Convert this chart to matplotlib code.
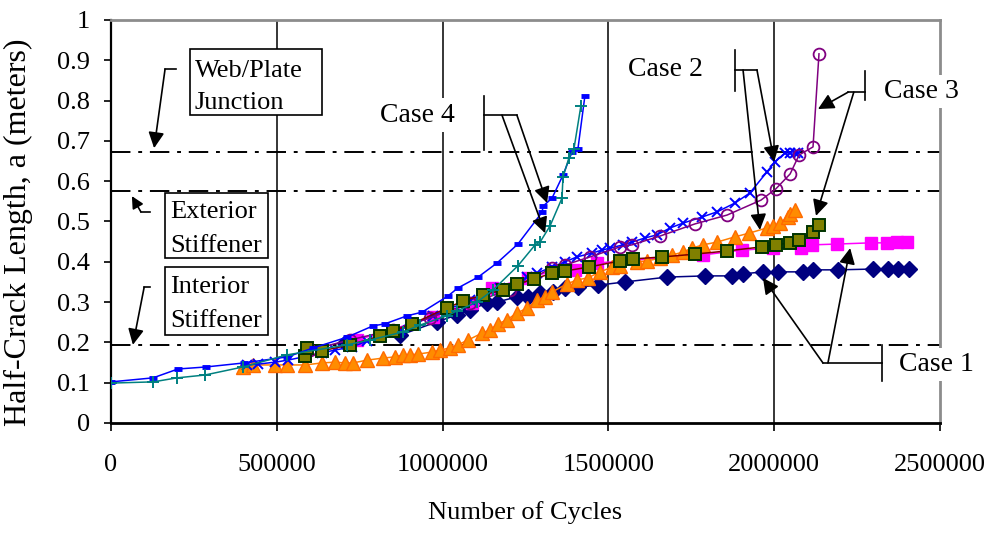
import matplotlib
matplotlib.use("Agg")
import matplotlib.pyplot as plt
from matplotlib.patches import Rectangle

plt.rcParams['font.family'] = ['Liberation Serif', 'DejaVu Serif']

# Case 1 - diamonds
c1a_x = [706e3, 872e3, 983e3, 1043e3, 1083e3, 1134e3, 1164e3, 1224e3, 1258e3, 1294e3, 1333e3, 1369e3,
         1408e3, 1469e3, 1550e3, 1677e3, 1791e3, 1873e3, 1906e3, 1966e3, 2011e3, 2087e3, 2117e3,
         2192e3, 2298e3, 2343e3, 2373e3, 2406e3]
c1a_y = [0.199, 0.218, 0.251, 0.268, 0.280, 0.298, 0.300, 0.313, 0.313, 0.323, 0.325, 0.335,
         0.337, 0.342, 0.350, 0.362, 0.365, 0.365, 0.370, 0.375, 0.375, 0.375, 0.380,
         0.380, 0.382, 0.382, 0.382, 0.382]
# Case 1 - squares
c1b_x = [742e3, 971e3, 1089e3, 1149e3, 1258e3, 1333e3, 1399e3, 1466e3, 1785e3, 1903e3, 1996e3,
         2081e3, 2114e3, 2189e3, 2292e3, 2340e3, 2370e3, 2400e3]
c1b_y = [0.206, 0.263, 0.298, 0.335, 0.360, 0.377, 0.380, 0.397, 0.417, 0.429, 0.434,
         0.434, 0.442, 0.444, 0.447, 0.447, 0.449, 0.449]
# Case 2 - x
c2a_x = [410e3, 443e3, 495e3, 534e3, 636e3, 676e3, 727e3, 772e3, 872e3, 971e3, 1083e3, 1173e3,
         1255e3, 1285e3, 1330e3, 1369e3, 1405e3, 1451e3, 1481e3, 1505e3, 1544e3, 1571e3, 1610e3,
         1647e3, 1686e3, 1725e3, 1782e3, 1828e3, 1882e3, 1927e3, 1978e3, 2002e3, 2033e3, 2048e3,
         2063e3, 2072e3]
c2a_y = [0.144, 0.146, 0.151, 0.156, 0.174, 0.181, 0.189, 0.203, 0.231, 0.266, 0.305, 0.335,
         0.362, 0.372, 0.387, 0.400, 0.412, 0.422, 0.429, 0.434, 0.442, 0.449, 0.459,
         0.467, 0.484, 0.496, 0.511, 0.524, 0.546, 0.571, 0.623, 0.648, 0.670, 0.670,
         0.670, 0.670]
# Case 2 - triangles
c2b_x = [398e3, 428e3, 495e3, 531e3, 585e3, 636e3, 676e3, 706e3, 730e3, 772e3, 820e3, 856e3,
         881e3, 902e3, 926e3, 968e3, 992e3, 1022e3, 1046e3, 1077e3, 1119e3, 1143e3, 1167e3,
         1194e3, 1224e3, 1255e3, 1285e3, 1309e3, 1330e3, 1375e3, 1405e3, 1438e3, 1475e3,
         1511e3, 1535e3, 1586e3, 1616e3, 1656e3, 1692e3, 1725e3, 1752e3, 1785e3, 1828e3,
         1882e3, 1924e3, 1978e3, 1996e3, 2017e3, 2042e3, 2048e3, 2063e3]
c2b_y = [0.139, 0.144, 0.144, 0.144, 0.144, 0.149, 0.151, 0.149, 0.149, 0.156, 0.161, 0.164,
         0.169, 0.169, 0.171, 0.176, 0.181, 0.186, 0.194, 0.206, 0.223, 0.231, 0.246,
         0.256, 0.273, 0.285, 0.305, 0.313, 0.325, 0.345, 0.355, 0.360, 0.375,
         0.387, 0.390, 0.400, 0.402, 0.409, 0.417, 0.424, 0.434, 0.442, 0.449,
         0.462, 0.471, 0.484, 0.489, 0.496, 0.511, 0.519, 0.529]
# Case 3 - circles
c3a_x = [600e3, 720e3, 850e3, 962e3, 1083e3, 1203e3, 1330e3, 1369e3, 1444e3, 1535e3, 1571e3,
         1656e3, 1761e3, 1858e3, 1960e3, 2005e3, 2048e3, 2075e3, 2117e3, 2135e3]
c3a_y = [0.181, 0.206, 0.231, 0.261, 0.298, 0.330, 0.385, 0.392, 0.412, 0.437, 0.442,
         0.464, 0.494, 0.516, 0.553, 0.581, 0.618, 0.665, 0.685, 0.916]
# Case 3 - squares
c3b_x = [585e3, 592e3, 636e3, 721e3, 811e3, 850e3, 908e3, 1013e3, 1062e3, 1122e3, 1182e3, 1224e3,
         1276e3, 1330e3, 1369e3, 1441e3, 1535e3, 1574e3, 1662e3, 1761e3, 1858e3, 1963e3,
         2005e3, 2048e3, 2075e3, 2117e3, 2135e3]
c3b_y = [0.165, 0.185, 0.179, 0.194, 0.216, 0.228, 0.246, 0.285, 0.303, 0.318, 0.330, 0.345,
         0.357, 0.372, 0.377, 0.387, 0.402, 0.407, 0.412, 0.419, 0.427, 0.437,
         0.442, 0.447, 0.454, 0.474, 0.491]
# Case 4 - dashes
c4a_x = [0, 127e3, 202e3, 286e3, 401e3, 531e3, 609e3, 712e3, 790e3, 826e3, 893e3, 938e3, 1016e3,
         1046e3, 1107e3, 1164e3, 1227e3, 1300e3, 1303e3, 1330e3, 1363e3, 1390e3, 1408e3, 1429e3]
c4a_y = [0.102, 0.112, 0.134, 0.139, 0.149, 0.164, 0.186, 0.213, 0.241, 0.246, 0.266, 0.275, 0.315,
         0.335, 0.362, 0.397, 0.444, 0.523, 0.538, 0.558, 0.615, 0.672, 0.680, 0.811]
# Case 4 - plus
c4b_x = [0, 127e3, 199e3, 283e3, 398e3, 531e3, 712e3, 781e3, 881e3, 932e3, 1013e3, 1043e3,
         1104e3, 1152e3, 1227e3, 1279e3, 1294e3, 1324e3, 1360e3, 1363e3, 1381e3, 1396e3, 1417e3]
c4b_y = [0.099, 0.102, 0.112, 0.119, 0.139, 0.169, 0.194, 0.206, 0.226, 0.243, 0.266, 0.278,
         0.300, 0.330, 0.390, 0.442, 0.449, 0.489, 0.558, 0.610, 0.658, 0.680, 0.787]

limits = [0.673, 0.575, 0.193]   # web/plate, exterior, interior
x_ticks = [0, 500000, 1000000, 1500000, 2000000, 2500000]
y_ticks = [0, 0.1, 0.2, 0.3, 0.4, 0.5, 0.6, 0.7, 0.8, 0.9, 1]

fig = plt.figure(figsize=(9.92, 5.33), dpi=100)
ax = fig.add_axes([0.1119, 0.2064, 0.8357, 0.7561])
ax.set_xlim(0, 2500000)
ax.set_ylim(0, 1)

for xv in x_ticks[1:-1]:
    ax.axvline(xv, color='black', lw=1.1, zorder=1)
for yv in limits:
    ax.axhline(yv, color='black', lw=1.4, dashes=(10, 4, 2, 4), zorder=1.5)

lw = 1.1
ax.plot(c1a_x, c1a_y, color='#000080', lw=lw, marker='D', ms=8, mfc='#000080', mec='#000080', zorder=3)
ax.plot(c1b_x, c1b_y, color='#ff00ff', lw=lw, marker='s', ms=8.5, mfc='#ff00ff', mec='#ff00ff', zorder=3)
ax.plot(c2b_x, c2b_y, color='#ff8000', lw=lw, marker='^', ms=10.5, mfc='#ff8c00', mec='#ff6a00', zorder=3)
ax.plot(c2a_x, c2a_y, color='#0000ff', lw=lw, marker='x', ms=7.5, mew=1.4, zorder=3)
ax.plot(c3a_x, c3a_y, color='#800080', lw=lw, marker='o', ms=8.5, mfc='none', mec='#800080', mew=1.3, zorder=3)
ax.plot(c3b_x, c3b_y, color='#800000', lw=lw, marker='s', ms=8.5, mfc='#808000', mec='#003300', mew=1.4, zorder=4)
ax.plot(c4a_x, c4a_y, color='#0000ff', lw=lw, marker='_', ms=6, mew=3.5, zorder=4)
ax.plot(c4b_x, c4b_y, color='#008080', lw=lw, marker='+', ms=9, mew=1.4, zorder=4)

ax.set_xticks(x_ticks)
ax.set_xticklabels([str(v) for v in x_ticks])
ax.set_yticks(y_ticks)
ax.set_yticklabels(['0', '0.1', '0.2', '0.3', '0.4', '0.5', '0.6', '0.7', '0.8', '0.9', '1'])
ax.tick_params(axis='x', direction='out', length=6, width=1.2, pad=16, labelsize=19)
ax.tick_params(axis='y', direction='out', length=5, width=1.2, pad=10, labelsize=19)

ax.spines['left'].set_linewidth(1.6)
ax.spines['bottom'].set_linewidth(2)
ax.spines['top'].set_color('#8c8c8c')
ax.spines['right'].set_color('#8c8c8c')
ax.spines['top'].set_linewidth(2)
ax.spines['right'].set_linewidth(2)

ax.set_xlabel('Number of Cycles', fontsize=19, labelpad=18)
ax.set_ylabel('Half-Crack Length, a (meters)', fontsize=23)
ax.yaxis.set_label_coords(-0.094, 0.474)

arrow = dict(arrowstyle='-|>', color='black', lw=1.2, mutation_scale=24, shrinkA=0, shrinkB=0)
small_arrow = dict(arrowstyle='-|>', color='black', lw=1.2, mutation_scale=18, shrinkA=0, shrinkB=0)

def seg(xs, ys):
    ax.plot(xs, ys, color='black', lw=1.2, zorder=6, clip_on=False)

def arr(start, tip, props=arrow):
    ax.annotate('', xy=tip, xytext=start, arrowprops=props, zorder=6, annotation_clip=False)

def label_box(x0, x1, y0, y1, tx, lines):
    ax.add_patch(Rectangle((x0, y0), x1 - x0, y1 - y0, fc='white', ec='black', lw=1.2, zorder=7))
    for text, yb in lines:
        ax.text(tx, yb, text, fontsize=19, ha='left', va='baseline', zorder=8)

label_box(238e3, 636e3, 0.764, 0.928, 253e3, [('Web/Plate', 0.859), ('Junction', 0.778)])
label_box(163e3, 473e3, 0.409, 0.571, 178e3, [('Exterior', 0.509), ('Stiffener', 0.424)])
label_box(163e3, 473e3, 0.218, 0.387, 178e3, [('Interior', 0.323), ('Stiffener', 0.238)])

seg([196e3, 163e3], [0.878, 0.878])
arr((163e3, 0.878), (130e3, 0.682))
seg([118e3, 90e3], [0.524, 0.524])
arr((90e3, 0.524), (63e3, 0.563), small_arrow)
seg([118e3, 100e3], [0.337, 0.337])
arr((100e3, 0.337), (66e3, 0.194))

wbox = dict(fc='white', ec='none', pad=3)
# Case 4
ax.text(925e3, 0.764, 'Case 4', fontsize=20, ha='center', va='center', bbox=wbox, zorder=7)
seg([1125e3, 1125e3], [0.811, 0.677])
seg([1125e3, 1224e3], [0.764, 0.764])
arr((1224e3, 0.764), (1315e3, 0.546))
arr((1179e3, 0.764), (1309e3, 0.471))
# Case 2
ax.text(1672e3, 0.876, 'Case 2', fontsize=20, ha='center', va='center', bbox=wbox, zorder=7)
seg([1882e3, 1882e3], [0.926, 0.824])
seg([1882e3, 1948e3], [0.876, 0.876])
arr((1948e3, 0.876), (2000e3, 0.648))
arr((1906e3, 0.876), (1957e3, 0.479))
# Case 3
ax.text(2445e3, 0.823, 'Case 3', fontsize=20, ha='center', va='center', bbox=wbox, zorder=7)
seg([2274e3, 2274e3], [0.873, 0.801])
seg([2274e3, 2223e3], [0.821, 0.821])
arr((2223e3, 0.821), (2132e3, 0.779))
arr((2240e3, 0.821), (2126e3, 0.514))
# Case 1
ax.text(2488e3, 0.145, 'Case 1', fontsize=20, ha='center', va='center', bbox=wbox, zorder=7)
seg([2325e3, 2325e3], [0.194, 0.104])
seg([2325e3, 2147e3], [0.149, 0.149])
arr((2147e3, 0.149), (1966e3, 0.360))
arr((2162e3, 0.149), (2229e3, 0.434))

fig.savefig('out.png', dpi=100)
